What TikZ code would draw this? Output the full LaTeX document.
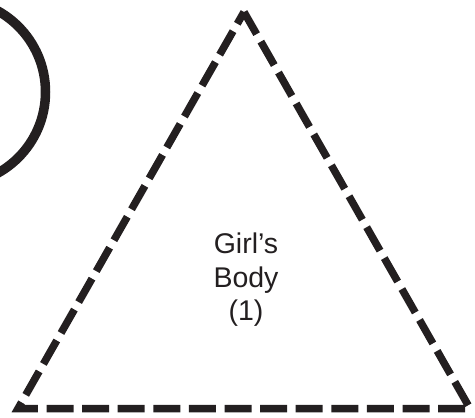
\documentclass[tikz,border=0pt]{standalone}
\usepackage{fontspec}
\setmainfont{Liberation Sans}
\usepackage{tikz}
\usetikzlibrary{calc, positioning}

\definecolor{ink}{RGB}{35,31,32}
\tikzset{
    outline/.style={draw=ink, line width=7.5pt, line join=miter, dash pattern=on 27pt off 8.6pt, dash phase=13.5pt},
    head/.style={draw=ink, line width=9.5pt},
    label/.style={text=ink, align=center, font=\fontsize{28.5pt}{33.5pt}\selectfont},
}

\begin{document}
\begin{tikzpicture}[x=1pt, y=-1pt]
    \useasboundingbox (0,0) rectangle (475,418);
    \draw [head] (-47.25,92) circle (92.75);
    \coordinate (apex) at (244,12);
    \coordinate (left) at (18,408.5);
    \coordinate (right) at (470,408.5);
    \draw [outline] (apex) -- (left) -- (right) -- cycle;
    \node [label] (body) at (246,280) {Girl’s\\Body\\(1)};
\end{tikzpicture}
\end{document}
